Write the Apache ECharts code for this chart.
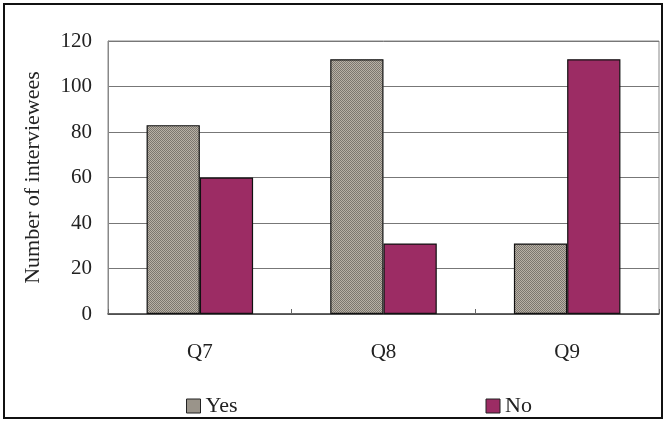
<!DOCTYPE html>
<html>
<head>
<meta charset="utf-8">
<script src="https://cdn.jsdelivr.net/npm/echarts@6/dist/echarts.min.js"></script>
<style>
  html, body { margin: 0; padding: 0; background: #fff; }
  #chart { width: 665px; height: 421px; }
</style>
</head>
<body>
<div id="chart"></div>
<script>
// Survey answers per question
const categories = ['Q7', 'Q8', 'Q9'];
const yesValues = [83, 112, 31];
const noValues = [60, 31, 112];
const yTicks = [0, 20, 40, 60, 80, 100, 120];

// Small checkered tile used as a stippled fill for the "Yes" bars
function makeStipple() {
  const c = document.createElement('canvas');
  c.width = 4; c.height = 4;
  const g = c.getContext('2d');
  g.fillStyle = '#b8b1a6';
  g.fillRect(0, 0, 4, 4);
  g.fillStyle = '#7c776f';
  g.fillRect(0, 0, 1, 1); g.fillRect(2, 0, 1, 1);
  g.fillRect(1, 1, 1, 1); g.fillRect(3, 1, 1, 1);
  g.fillRect(0, 2, 1, 1); g.fillRect(2, 2, 1, 1);
  g.fillRect(1, 3, 1, 1); g.fillRect(3, 3, 1, 1);
  return c;
}
const stipple = makeStipple();

const font = '"Liberation Serif", "Times New Roman", serif';
const chart = echarts.init(document.getElementById('chart'), null, { renderer: 'canvas' });

chart.setOption({
  animation: false,
  backgroundColor: '#ffffff',
  textStyle: { fontFamily: font },
  graphic: [{
    type: 'rect',
    shape: { x: 4, y: 4, width: 658, height: 414 },
    style: { fill: 'none', stroke: '#111', lineWidth: 2 },
    z: 100
  }],
  grid: { left: 108, right: 6, top: 41, bottom: 107, show: true, borderColor: '#888', borderWidth: 1 },
  legend: {
    left: 181, top: 390,
    itemWidth: 14, itemHeight: 14, itemGap: 248,
    textStyle: { fontFamily: font, fontSize: 22, color: '#222' },
    data: [
      { name: 'Yes', icon: 'rect', itemStyle: { color: { image: stipple, repeat: 'repeat' }, borderColor: '#222', borderWidth: 1 } },
      { name: 'No', icon: 'rect', itemStyle: { color: '#9c2c64', borderColor: '#222', borderWidth: 1 } }
    ]
  },
  xAxis: {
    type: 'category',
    data: categories,
    axisLine: { lineStyle: { color: '#444', width: 1.5 } },
    axisTick: { show: true, inside: true, length: 5, alignWithLabel: false, lineStyle: { color: '#666' } },
    axisLabel: { margin: 28, fontFamily: font, fontSize: 21, color: '#222' }
  },
  yAxis: {
    type: 'value',
    min: yTicks[0], max: yTicks[yTicks.length - 1], interval: 20,
    name: 'Number of interviewees',
    nameLocation: 'middle',
    nameGap: 64,
    nameRotate: 90,
    nameTextStyle: { fontFamily: font, fontSize: 22, color: '#222' },
    axisLine: { show: true, lineStyle: { color: '#888' } },
    axisTick: { show: false },
    axisLabel: { margin: 16, fontFamily: font, fontSize: 21, color: '#222' },
    splitLine: { lineStyle: { color: '#777', width: 1 } }
  },
  series: [
    {
      name: 'Yes', type: 'bar', data: yesValues,
      barGap: '0%', barCategoryGap: '42%',
      itemStyle: { color: { image: stipple, repeat: 'repeat' }, borderColor: '#111', borderWidth: 1.2 }
    },
    {
      name: 'No', type: 'bar', data: noValues,
      itemStyle: { color: '#9c2c64', borderColor: '#111', borderWidth: 1.2 }
    }
  ]
});
</script>
</body>
</html>
